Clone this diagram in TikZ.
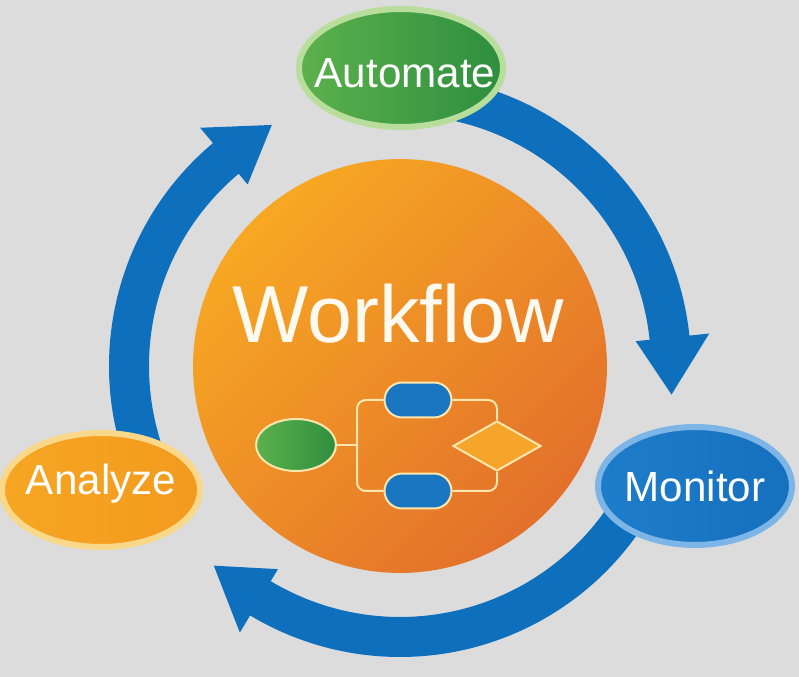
\documentclass[tikz,border=0pt]{standalone}
\usepackage{fontspec}
\setmainfont{Liberation Sans}
\usepackage{tikz}
\usetikzlibrary{shapes.geometric, shapes.misc}

\definecolor{bgGray}{HTML}{DCDCDC}
\definecolor{arrowBlue}{HTML}{0E6FBD}
\definecolor{wfLight}{HTML}{F7A823}
\definecolor{wfDark}{HTML}{E3702B}
\definecolor{wfText}{HTML}{FFFAF0}
\definecolor{autoL}{HTML}{5CB14B}
\definecolor{autoD}{HTML}{2E8E3F}
\definecolor{autoRing}{HTML}{B9DE9C}
\definecolor{monL}{HTML}{1E7DCA}
\definecolor{monD}{HTML}{1570BE}
\definecolor{monRing}{HTML}{7DB6E6}
\definecolor{anaL}{HTML}{F6A623}
\definecolor{anaD}{HTML}{F39A1E}
\definecolor{anaRing}{HTML}{F9D88A}
\definecolor{lineCream}{HTML}{FBE6AE}
\definecolor{taskBlue}{HTML}{1B76C2}
\definecolor{decideOrange}{HTML}{F6A52B}

\begin{document}
\begin{tikzpicture}[x=0.02cm, y=0.02cm,
    stage/.style={ellipse, inner sep=0pt, line width=0.12cm},
    stagetext/.style={text=white, font=\fontsize{24}{28}\selectfont, anchor=base, inner sep=0pt},
    cyclearrow/.style={fill=arrowBlue},
    flowbox/.style={draw=lineCream, line width=0.04cm, inner sep=0pt},
    flowline/.style={draw=lineCream, line width=0.04cm, rounded corners=5pt}]

		\useasboundingbox (0,0) rectangle (799,677);
		\fill[bgGray] (0,0) rectangle (799,677);

		% Centre disc
		\node[circle, minimum size=8.28cm, inner sep=0pt, top color=wfLight, bottom color=wfDark, shading angle=45] (wf) at (400,311) {};
		\node[text=wfText, font=\fontsize{46}{50}\selectfont, anchor=base, inner sep=0pt] (wfTitle) at (398,334) {Workflow};

		% Cycle arrows (clockwise, ends tucked under the stages)
		\begin{scope}[shift={(wf.center)}]
			\foreach \s/\e in {205/130, 88/6, -20/-121} {
					\fill[cyclearrow] (\s:251) arc[start angle=\s, end angle=\e, radius=251]
					-- (\e:237) -- ({\e-12}:273) -- (\e:311) -- (\e:291)
					arc[start angle=\e, end angle=\s, radius=291] -- cycle;
				}
		\end{scope}

		% Stages
		\node[stage, draw=autoRing, left color=autoL, right color=autoD, minimum width=4.08cm, minimum height=2.36cm] (automate) at (401,609) {};
		\node[stagetext] (automateText) at (405,589) {Automate};

		\node[stage, draw=monRing, left color=monL, right color=monD, minimum width=3.88cm, minimum height=2.36cm] (monitor) at (695,191) {};
		\node[stagetext] (monitorText) at (695,175) {Monitor};

		\node[stage, draw=anaRing, left color=anaL, right color=anaD, minimum width=3.96cm, minimum height=2.28cm] (analyze) at (101,187) {};
		\node[stagetext] (analyzeText) at (101,182) {Analyze};

		% Small flowchart inside the disc
		\node[ellipse, flowbox, left color=autoL, right color=autoD, minimum width=1.6cm, minimum height=1.04cm] (start) at (296,232) {};
		\node[rounded rectangle, flowbox, fill=taskBlue, minimum width=1.34cm, minimum height=0.7cm] (taskA) at (418,277) {};
		\node[rounded rectangle, flowbox, fill=taskBlue, minimum width=1.34cm, minimum height=0.7cm] (taskB) at (418,186) {};
		\node[diamond, flowbox, fill=decideOrange, minimum width=1.76cm, minimum height=1.0cm, aspect=1.7] (decide) at (497,231) {};
		\coordinate (split) at (357,232);

		% --- Flow lines ---
		\draw[flowline] (start) -- (split);
		\draw[flowline] (split) |- (taskA);
		\draw[flowline] (split) |- (taskB);
		\draw[flowline] (taskA) -| (decide);
		\draw[flowline] (decide) |- (taskB);

	\end{tikzpicture}
\end{document}
